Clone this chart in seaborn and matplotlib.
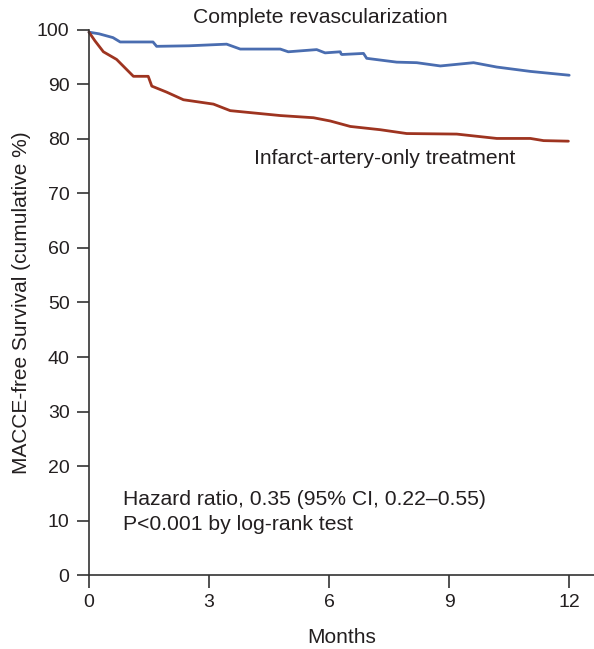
import matplotlib
matplotlib.use("Agg")
import matplotlib.pyplot as plt
import seaborn as sns
import pandas as pd

sns.set_theme(style="ticks")
plt.rcParams['font.family'] = ['Liberation Sans', 'DejaVu Sans']

# Complete revascularization curve
cr_months = [0.0, 0.25, 0.6, 0.78, 1.6, 1.69, 2.5, 3.44, 3.78, 4.78, 4.98, 5.69, 5.9, 6.28, 6.3, 6.32,
             6.86, 6.94, 7.69, 8.19, 8.78, 9.61, 10.19, 11.03, 12.0]
cr_surv = [99.6, 99.3, 98.6, 97.8, 97.8, 97.0, 97.1, 97.4, 96.5, 96.5, 96.0, 96.4, 95.8, 96.0, 95.6, 95.5,
           95.7, 94.8, 94.1, 94.0, 93.4, 94.0, 93.2, 92.4, 91.7]

# Infarct-artery-only treatment curve
io_months = [0.0, 0.15, 0.36, 0.69, 1.11, 1.48, 1.57, 1.94, 2.36, 3.11, 3.53, 4.78, 5.61, 6.03, 6.28,
             6.53, 7.28, 7.94, 9.19, 10.19, 11.03, 11.36, 11.98]
io_surv = [99.6, 98.0, 96.0, 94.6, 91.5, 91.5, 89.7, 88.6, 87.2, 86.4, 85.2, 84.3, 83.9, 83.3, 82.8,
           82.3, 81.7, 81.0, 80.9, 80.1, 80.1, 79.7, 79.6]

x_ticks = [0, 3, 6, 9, 12]
y_ticks = [0, 10, 20, 30, 40, 50, 60, 70, 80, 90, 100]

blue = "#4a6db0"
red = "#9e3420"
txt = "#231f20"

df = pd.concat([
    pd.DataFrame({"Months": cr_months, "Survival": cr_surv, "Group": "Complete revascularization"}),
    pd.DataFrame({"Months": io_months, "Survival": io_surv, "Group": "Infarct-artery-only treatment"}),
])

fig = plt.figure(figsize=(5.94, 6.49), dpi=100)
ax = fig.add_axes([0.1498, 0.114, 0.8502, 0.8398])

sns.lineplot(data=df, x="Months", y="Survival", hue="Group", sort=False, estimator=None,
             palette={"Complete revascularization": blue, "Infarct-artery-only treatment": red},
             linewidth=2.0, legend=False, ax=ax, clip_on=False)

ax.set_xlim(0, 12.62)
ax.set_ylim(0, 100)
ax.set_xticks(x_ticks)
ax.set_yticks(y_ticks)
ax.tick_params(axis="both", direction="out", length=9, width=1.2, color="#333333",
               labelsize=14, labelcolor=txt, pad=5)
for s in ["top", "right"]:
    ax.spines[s].set_visible(False)
for s in ["left", "bottom"]:
    ax.spines[s].set_color("#333333")
    ax.spines[s].set_linewidth(1.2)

ax.set_xlabel("Months", fontsize=15, color=txt, labelpad=12)
ax.set_ylabel("MACCE-free Survival (cumulative %)", fontsize=15, color=txt, labelpad=4)

fs = 15.2
ax.text(5.78, 102.2, "Complete revascularization", fontsize=fs, color=txt, ha="center", va="center",
        clip_on=False)
ax.text(4.13, 76.5, "Infarct-artery-only treatment", fontsize=fs, color=txt, ha="left", va="center")
ax.text(0.84, 13.8, "Hazard ratio, 0.35 (95% CI, 0.22\u20130.55)", fontsize=fs, color=txt,
        ha="left", va="center")
ax.text(0.84, 9.2, "P<0.001 by log-rank test", fontsize=fs, color=txt, ha="left", va="center")

fig.savefig("out.png", dpi=100)
